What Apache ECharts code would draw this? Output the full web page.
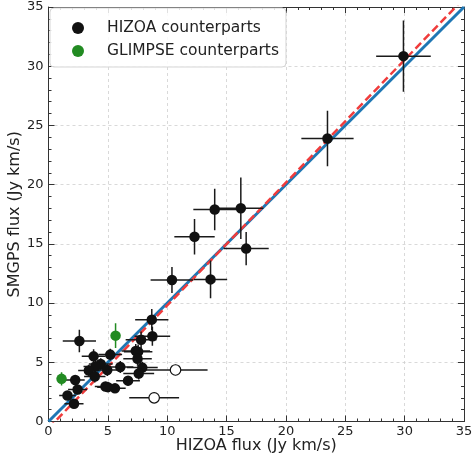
<!DOCTYPE html>
<html>
<head>
<meta charset="utf-8">
<script src="https://cdn.jsdelivr.net/npm/echarts@6/dist/echarts.min.js"></script>
<style>html,body{margin:0;padding:0;background:#fff}#c{width:472px;height:460px}</style>
</head>
<body>
<div id="c"></div>
<script>
// HIZOA counterparts: [HIZOA flux, SMGPS flux, x error, y error]
const hizoa = [
  [2.6, 6.8, 1.4, 0.95],
  [8.7, 8.6, 1.4, 0.9],
  [8.75, 7.2, 1.5, 0.8],
  [7.8, 6.9, 1.3, 0.7],
  [7.35, 5.95, 1.2, 0.6],
  [7.55, 5.9, 1.2, 0.6],
  [7.5, 5.3, 1.2, 0.6],
  [3.8, 5.5, 1.0, 0.6],
  [5.2, 5.65, 1.0, 0.5],
  [4.4, 4.85, 1.0, 0.5],
  [3.95, 4.65, 1.0, 0.5],
  [3.4, 4.3, 0.9, 0.5],
  [4.95, 4.35, 1.0, 0.5],
  [6.05, 4.6, 1.1, 0.5],
  [3.9, 3.8, 0.9, 0.5],
  [7.9, 4.55, 1.3, 0.5],
  [7.6, 4.05, 1.3, 0.5],
  [6.7, 3.45, 1.0, 0.4],
  [2.25, 3.5, 0.8, 0.4],
  [2.45, 2.7, 0.8, 0.4],
  [1.6, 2.2, 0.7, 0.3],
  [2.15, 1.5, 0.8, 0.3],
  [4.8, 2.95, 0.9, 0.3],
  [5.0, 2.9, 0.9, 0.3],
  [5.6, 2.8, 0.9, 0.3],
  [10.4, 11.95, 1.8, 1.1],
  [13.65, 12.0, 1.4, 1.6],
  [12.3, 15.6, 1.7, 1.5],
  [16.65, 14.6, 1.9, 1.4],
  [14.0, 17.9, 1.8, 1.75],
  [16.2, 18.0, 1.9, 2.6],
  [23.5, 23.9, 2.2, 2.35],
  [29.9, 30.85, 2.3, 3.0]
];
// open symbols
const openPts = [
  [10.7, 4.35, 2.7, 0.45],
  [8.9, 2.0, 2.1, 0.0]
];
// GLIMPSE counterparts
const glimpse = [
  [5.65, 7.25, 0.0, 1.05],
  [1.1, 3.6, 0.0, 0.55]
];
const xTicks = [0, 5, 10, 15, 20, 25, 30, 35];
const yTicks = [0, 5, 10, 15, 20, 25, 30, 35];
const fitSlope = 1.037, fitIntercept = -0.57;
const axMin = 0, axMax = 35;

const chart = echarts.init(document.getElementById('c'));
const FONT = 'DejaVu Sans';

function errRender(color) {
  return function (params, api) {
    const x = api.value(0), y = api.value(1), xe = api.value(2), ye = api.value(3);
    const l = api.coord([x - xe, y]), r = api.coord([x + xe, y]);
    const t = api.coord([x, y + ye]), b = api.coord([x, y - ye]);
    const style = { stroke: color, lineWidth: 1.5 };
    const ch = [];
    if (xe > 0) ch.push({ type: 'line', shape: { x1: l[0], y1: l[1], x2: r[0], y2: r[1] }, style });
    if (ye > 0) ch.push({ type: 'line', shape: { x1: b[0], y1: b[1], x2: t[0], y2: t[1] }, style });
    return { type: 'group', children: ch };
  };
}

const gridLine = { show: true, lineStyle: { color: '#d0d0d0', width: 0.8, type: [3, 3] } };
function mkAxis(pos, showLabel, name, isX) {
  const a = {
    type: 'value', min: axMin, max: axMax, interval: 5, position: pos,
    axisLine: { show: true, onZero: false, lineStyle: { color: '#333', width: 1 } },
    axisTick: { show: true, inside: true, length: 6, lineStyle: { color: '#333', width: 1 } },
    minorTick: { show: true, splitNumber: 5, length: 3, lineStyle: { color: '#333', width: 1 } },
    splitLine: showLabel ? gridLine : { show: false },
    axisLabel: { show: showLabel, color: '#222', fontFamily: FONT, fontSize: 13, margin: isX ? 4 : 5,
      formatter: v => String(v) },
  };
  if (name) {
    a.name = name; a.nameLocation = 'middle';
    a.nameGap = isX ? 16 : 26;
    a.nameMoveOverlap = false;
    a.nameTextStyle = { fontFamily: FONT, fontSize: 16, color: '#222' };
  }
  return a;
}

const fitLine = [[axMin, fitSlope * axMin + fitIntercept], [axMax, fitSlope * axMax + fitIntercept]];

chart.setOption({
  animation: false,
  backgroundColor: '#fff',
  grid: { left: 48.5, right: 8, top: 7, bottom: 38.5, containLabel: false, outerBoundsMode: 'none' },
  xAxis: [mkAxis('bottom', true, 'HIZOA flux (Jy km/s)', true), mkAxis('top', false, null, true)],
  yAxis: [mkAxis('left', true, 'SMGPS flux (Jy km/s)', false), mkAxis('right', false, null, false)],
  legend: {
    left: 50, top: 8, orient: 'vertical', selectedMode: false,
    data: [{ name: 'HIZOA counterparts', icon: 'circle' }, { name: 'GLIMPSE counterparts', icon: 'circle' }],
    itemWidth: 12, itemHeight: 12, itemGap: 3,
    padding: [10, 7, 6, 22],
    backgroundColor: 'rgba(255,255,255,0.85)', borderColor: '#d5d5d5', borderWidth: 1, borderRadius: 4,
    textStyle: { fontFamily: FONT, fontSize: 15.5, color: '#222', lineHeight: 20, padding: [0, 0, 0, 18] }
  },
  series: [
    { type: 'line', data: [[axMin, axMin], [axMax, axMax]], symbol: 'none', silent: true,
      lineStyle: { color: '#1f77b4', width: 3 }, z: 2 },
    { type: 'line', data: fitLine, symbol: 'none', silent: true, clip: true,
      lineStyle: { color: '#f03c3c', width: 2.5, type: [8, 4] }, z: 3 },
    { type: 'custom', renderItem: errRender('#1a1a1a'), data: hizoa, z: 4, clip: true, silent: true },
    { type: 'custom', renderItem: errRender('#1a1a1a'), data: openPts, z: 4, clip: true, silent: true },
    { type: 'custom', renderItem: errRender('#228b22'), data: glimpse, z: 4, clip: true, silent: true },
    { name: 'HIZOA counterparts', type: 'scatter', data: hizoa, symbolSize: 10.5, z: 5,
      itemStyle: { color: '#111', opacity: 1 } },
    { name: 'open', type: 'scatter', data: openPts, symbolSize: 10.5, z: 5,
      itemStyle: { color: '#fff', borderColor: '#111', borderWidth: 1.2, opacity: 1 } },
    { name: 'GLIMPSE counterparts', type: 'scatter', data: glimpse, symbolSize: 10.5, z: 5,
      itemStyle: { color: '#228b22', opacity: 1 } }
  ]
});
</script>
</body>
</html>
